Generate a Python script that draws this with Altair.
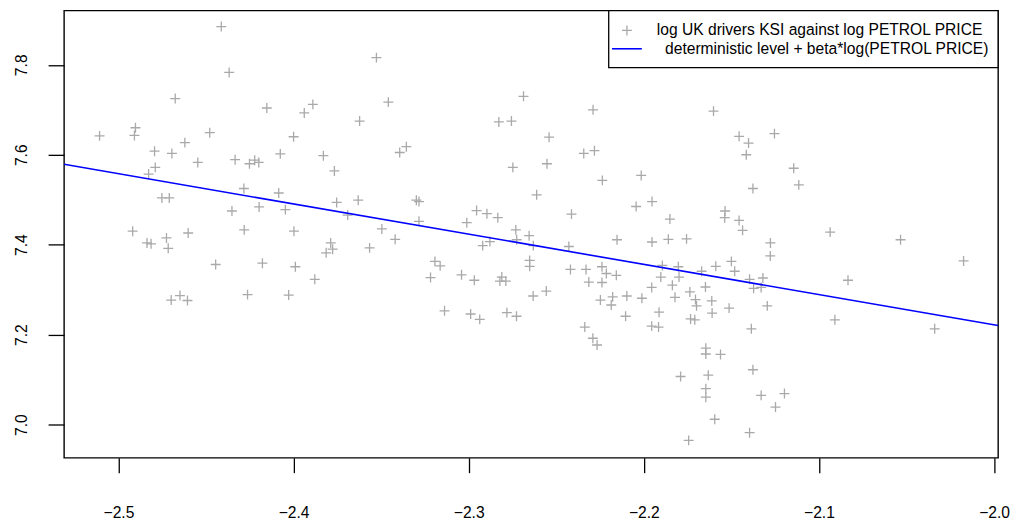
import altair as alt
import pandas as pd

# log PETROL PRICE (x) and log UK drivers KSI (y)
log_petrol_price = [
    -2.4413, -2.4368, -2.4676, -2.4153, -2.5108, -2.4903, -2.4909, -2.4479, -2.4621, -2.4794,
    -2.4695, -2.4000, -2.4076, -2.4547, -2.4334, -2.4222, -2.4252, -2.4199, -2.4790, -2.4828,
    -2.4284, -2.4085, -2.4752, -2.4710, -2.4352, -2.4197, -2.4047, -2.4919, -2.4602, -2.4282,
    -2.3998, -2.4837, -2.4814, -2.4726, -2.4716, -2.4445, -2.4178, -2.3990, -2.4699, -2.4649,
    -2.4606, -2.4263, -2.4028,
    -2.3527, -2.2687, -2.3459, -2.3890, -2.3939, -2.3623, -2.2828, -2.2756, -2.3356, -2.3394,
    -2.3830, -2.3767, -2.2748, -2.3754, -2.3631, -2.3299, -2.3284, -2.3691, -2.2955, -2.2896,
    -2.2834, -2.3284, -2.3011, -2.3496, -2.2731, -2.2726, -2.3788, -2.3814, -2.3777, -2.3566,
    -2.3420, -2.2920, -2.2879, -2.3879, -2.3193, -2.3163, -2.3218, -2.3041, -2.2968, -2.2811,
    -2.2822, -2.2788, -2.3138, -2.2989, -2.2937, -2.2782, -2.2727,
    -2.2290, -2.1602, -2.2541, -2.1456, -2.1402, -2.2343, -2.2282, -2.1415, -2.2553, -2.2237,
    -2.2015, -2.1377, -2.2612, -2.2413, -2.2044, -2.1953, -2.1536, -2.1538, -2.1851, -2.1456,
    -2.1436, -2.2655, -2.2631, -2.2428, -2.2153, -2.1953, -2.1860, -2.1756, -2.2652, -2.2652,
    -2.2419, -2.2330, -2.2239, -2.2214, -2.2157, -2.2314, -2.2239, -2.1894, -2.1803, -2.1903,
    -2.1799, -2.1670, -2.1589, -2.1500, -2.1481, -2.1396, -2.1373, -2.1955, -2.1837, -2.1648,
    -2.2557, -2.2632, -2.1737, -2.2248, -2.2178, -2.2186, -2.2097, -2.2011, -2.1822, -2.1705,
    -2.1699, -2.1612, -2.1610, -2.1513, -2.1913, -2.2104, -2.1733, -2.1709, -2.1955, -2.1916,
    -2.2337, -2.2291, -2.2267, -2.1386, -2.1646, -2.1646, -2.1562, -2.1377, -2.1790, -2.1632,
    -2.1646, -2.1646, -2.1595, -2.1396, -2.1744,
    -2.1254, -2.1144, -2.1115, -2.0936, -2.0534, -2.1277, -2.1278, -2.0174, -2.1320, -2.1330,
    -2.0834, -2.1295, -2.0909, -2.0339, -2.1330, -2.1197, -2.1248,
]
log_drivers_ksi = [
    7.885, 7.783, 7.725, 7.704, 7.642, 7.660, 7.643, 7.649, 7.627, 7.608,
    7.603, 7.640, 7.602, 7.583, 7.589, 7.588, 7.580, 7.583, 7.572, 7.557,
    7.525, 7.515, 7.504, 7.504, 7.475, 7.484, 7.478, 7.430, 7.426, 7.433,
    7.430, 7.404, 7.402, 7.415, 7.392, 7.356, 7.359, 7.351, 7.277, 7.287,
    7.276, 7.289, 7.288,
    7.816, 7.730, 7.717, 7.712, 7.693, 7.675, 7.673, 7.675, 7.618, 7.605,
    7.598, 7.564, 7.572, 7.494, 7.499, 7.499, 7.496, 7.466, 7.476, 7.469,
    7.460, 7.452, 7.449, 7.435, 7.433, 7.411, 7.404, 7.382, 7.390, 7.393,
    7.412, 7.398, 7.407, 7.323, 7.363, 7.353, 7.327, 7.333, 7.321, 7.328,
    7.319, 7.319, 7.253, 7.246, 7.234, 7.249, 7.241,
    7.700, 7.697, 7.639, 7.641, 7.626, 7.603, 7.609, 7.600, 7.580, 7.543,
    7.554, 7.525, 7.511, 7.468, 7.485, 7.496, 7.475, 7.460, 7.457, 7.454,
    7.432, 7.420, 7.398, 7.396, 7.411, 7.406, 7.412, 7.413, 7.365, 7.352,
    7.345, 7.345, 7.351, 7.336, 7.332, 7.317, 7.316, 7.354, 7.351, 7.328,
    7.328, 7.341, 7.352, 7.363, 7.341, 7.323, 7.303, 7.305, 7.310, 7.306,
    7.297, 7.286, 7.295, 7.277, 7.284, 7.266, 7.286, 7.281, 7.283, 7.278,
    7.264, 7.275, 7.248, 7.259, 7.250, 7.241, 7.235, 7.233, 7.219, 7.217,
    7.217, 7.192, 7.177, 7.213, 7.170, 7.157, 7.156, 7.122, 7.107, 7.110,
    7.080, 7.061, 7.012, 6.982, 6.965,
    7.647, 7.570, 7.533, 7.428, 7.411, 7.404, 7.375, 7.364, 7.326, 7.305,
    7.321, 7.264, 7.233, 7.213, 7.065, 7.069, 7.039,
]

# fitted line: deterministic level + beta*log(PETROL PRICE)
level = 5.8787
beta = -0.67166

x_domain = [-2.5311, -1.9977]
y_domain = [6.9264, 7.9206]
x_ticks = [-2.5, -2.4, -2.3, -2.2, -2.1, -2.0]
y_ticks = [7.0, 7.2, 7.4, 7.6, 7.8]

legend_labels = [
    "log UK drivers KSI against log PETROL PRICE",
    "deterministic level + beta*log(PETROL PRICE)",
]

FONT = "Liberation Sans"
FS = 15.7
GREY = "#A9A9A9"
PLUS = "M-1,0L1,0M0,-1L0,1"

points = pd.DataFrame({"x": log_petrol_price, "y": log_drivers_ksi})
fit = pd.DataFrame({"x": x_domain, "y": [level + beta * v for v in x_domain]})
one = pd.DataFrame({"k": [0]})

xs = alt.Scale(domain=x_domain, nice=False, zero=False)
ys = alt.Scale(domain=y_domain, nice=False, zero=False)

x_axis = alt.Axis(values=x_ticks, format=".1f", title=None, grid=False, domain=False,
                  tickSize=15, tickWidth=1.3, tickColor="black", labelPadding=33.5,
                  labelBaseline="top", labelFont=FONT, labelFontSize=FS, labelColor="black",
                  labelOverlap=False, labelBound=False, labelFlush=False)
y_axis = alt.Axis(values=y_ticks, format=".1f", title=None, grid=False, domain=False,
                  tickSize=16, tickWidth=1.3, tickColor="black", labelPadding=21.6,
                  labelAngle=270, labelAlign="center", labelBaseline="alphabetic",
                  labelFont=FONT, labelFontSize=FS, labelColor="black",
                  labelOverlap=False, labelBound=False, labelFlush=False)

pts = alt.Chart(points).mark_point(shape=PLUS, size=100, filled=False, color=GREY,
                                   strokeWidth=1.3, opacity=1).encode(
    x=alt.X("x:Q", scale=xs, axis=x_axis),
    y=alt.Y("y:Q", scale=ys, axis=y_axis),
)

line = alt.Chart(fit).mark_line(color="#0000FF", strokeWidth=1.6, clip=True).encode(
    x=alt.X("x:Q", scale=xs), y=alt.Y("y:Q", scale=ys)
)

leg_box = alt.Chart(one).mark_rect(fill="white", stroke="black", strokeWidth=1.3).encode(
    x=alt.value(547.4), x2=alt.value(938.7), y=alt.value(0), y2=alt.value(57.4)
)
leg_sym = alt.Chart(one).mark_point(shape=PLUS, size=100, filled=False, color=GREY,
                                    strokeWidth=1.3, opacity=1).encode(
    x=alt.value(565.7), y=alt.value(20.0)
)
leg_line = alt.Chart(one).mark_rule(color="#0000FF", strokeWidth=1.6).encode(
    x=alt.value(550.7), x2=alt.value(580.7), y=alt.value(38.4)
)
leg_t1 = alt.Chart(one).mark_text(align="left", baseline="middle", font=FONT, fontSize=FS,
                                  color="black").encode(
    x=alt.value(595.7), y=alt.value(20.0), text=alt.value(legend_labels[0])
)
leg_t2 = alt.Chart(one).mark_text(align="left", baseline="middle", font=FONT, fontSize=FS,
                                  color="black").encode(
    x=alt.value(604.0), y=alt.value(38.4), text=alt.value(legend_labels[1])
)

chart = alt.layer(pts, line, leg_box, leg_sym, leg_line, leg_t1, leg_t2).properties(
    width=938.7, height=449.4,
    autosize=alt.AutoSizeParams(type="none"),
    padding={"left": 56.3, "top": 1.3, "right": 15, "bottom": 62},
    background="white",
).configure_view(stroke="black", strokeWidth=1.4)

chart.save("out.html", embed_options={"renderer": "svg", "actions": False})
